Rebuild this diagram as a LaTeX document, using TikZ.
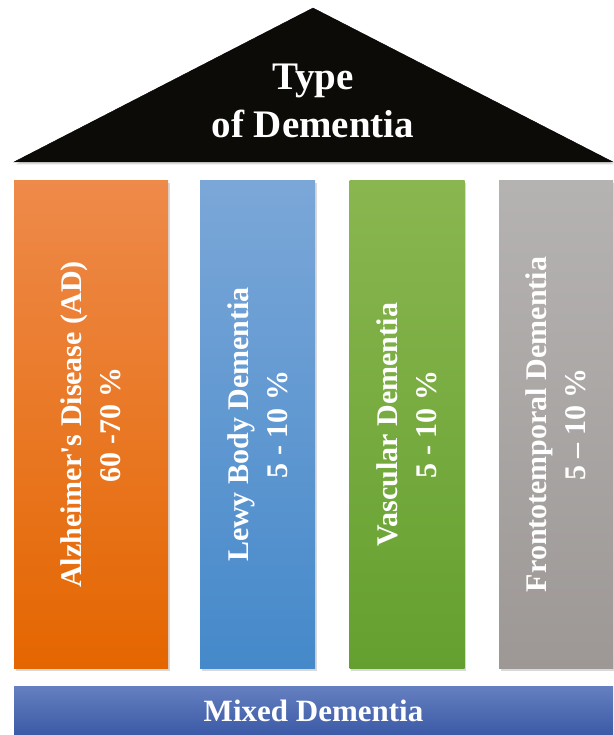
\documentclass[tikz,border=0pt]{standalone}
\usepackage{fontspec}
\setmainfont{Liberation Serif}
\usetikzlibrary{shadows}
\tikzstyle{houseDiagram} = [x = 1pt, y = -1pt]
\definecolor{roofColor}{RGB}{13,11,8}
\definecolor{adTop}{RGB}{238,138,74}
\definecolor{adBottom}{RGB}{228,102,0}
\definecolor{lewyTop}{RGB}{123,167,216}
\definecolor{lewyBottom}{RGB}{69,137,202}
\definecolor{vascTop}{RGB}{138,182,80}
\definecolor{vascBottom}{RGB}{100,160,47}
\definecolor{frontoTop}{RGB}{181,179,178}
\definecolor{frontoBottom}{RGB}{157,152,150}
\definecolor{mixedTop}{RGB}{101,128,192}
\definecolor{mixedBottom}{RGB}{59,90,166}
\tikzstyle{houseShadow} = [drop shadow={shadow xshift=1.5pt, shadow yshift=-2.5pt, opacity=.3}]
\tikzstyle{roofStyle} = [fill=roofColor, houseShadow]
\tikzstyle{roofText} = [align=center, text=white, font=\fontsize{39}{48}\selectfont\bfseries]
\tikzstyle{pillarStyle} = [draw=none, inner sep=0pt, minimum height=488pt, houseShadow]
\tikzstyle{pillarText} = [rotate=90, align=center, text=white, font=\fontsize{30}{39}\selectfont\bfseries]
\tikzstyle{baseStyle} = [draw=none, inner sep=0pt, minimum width=599pt, minimum height=49pt, top color=mixedTop, bottom color=mixedBottom]
\tikzstyle{baseText} = [text=white, font=\fontsize{31}{37}\selectfont\bfseries]
% name, centre x, width, top colour, bottom colour, text
\newcommand{\pillar}[6]{
  \node [pillarStyle, minimum width=#3pt, top color=#4, bottom color=#5] (#1) at (#2, 424.5) {};
  \node [pillarText] (#1Text) at (#1) {#6};
}

\begin{document}
\begin{tikzpicture}[houseDiagram]
  \useasboundingbox (0,0) rectangle (613,735);

  % roof
  \filldraw [roofStyle] (14,162) -- (313,8) -- (613,162) -- cycle;
  \node [roofText] (roof) at (313,101) {Type\\of Dementia};

  % pillars
  \pillar{ad}{91}{154}{adTop}{adBottom}{Alzheimer\textquotesingle s Disease (AD)\\60 -70 \%}
  \pillar{lewy}{257.5}{115}{lewyTop}{lewyBottom}{Lewy Body Dementia\\5 - 10 \%}
  \pillar{vascular}{407}{115}{vascTop}{vascBottom}{Vascular Dementia\\5 - 10 \%}
  \pillar{fronto}{556}{114}{frontoTop}{frontoBottom}{Frontotemporal Dementia\\5 -- 10 \%}

  % base
  \node [baseStyle] (mixed) at (313.5,710.5) {};
  \node [baseText] (mixedText) at (mixed) {Mixed Dementia};
\end{tikzpicture}
\end{document}
